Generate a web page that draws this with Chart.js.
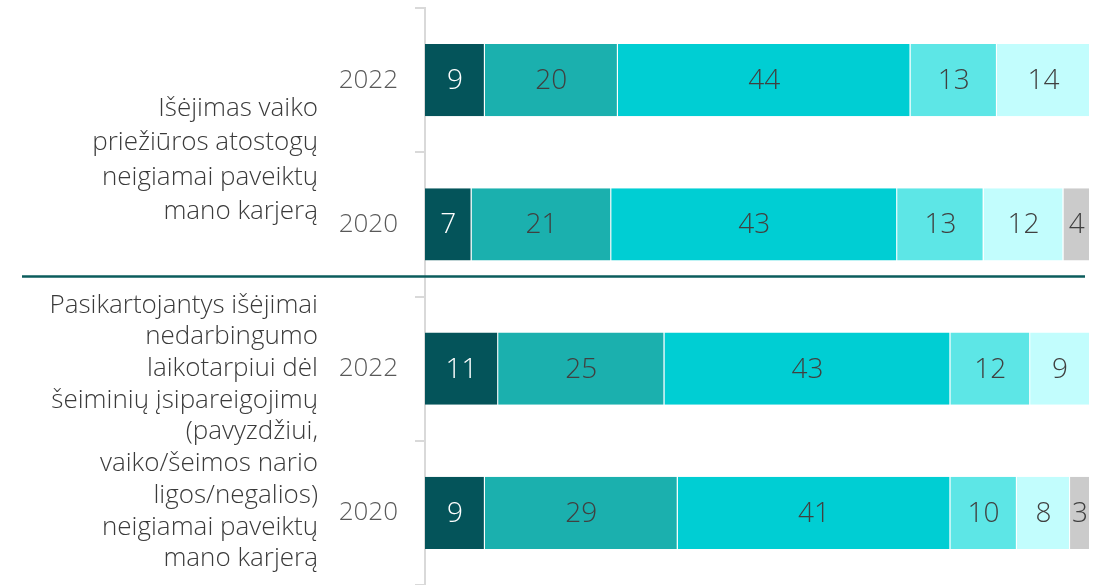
<!DOCTYPE html>
<html>
<head>
<meta charset="utf-8">
<script src="https://cdn.jsdelivr.net/npm/chart.js@4"></script>
<style>
  html, body { margin: 0; padding: 0; background: #fff; overflow: hidden; }
  #wrap { width: 1107px; height: 585px; position: relative; }
</style>
</head>
<body>
<div id="wrap"><canvas id="chart"></canvas></div>
<script>
const years = ['2022', '2020', '2022', '2020'];
const groupLabels = [
  ['Išėjimas vaiko', 'priežiūros atostogų', 'neigiamai paveiktų', 'mano karjerą'],
  ['Pasikartojantys išėjimai', 'nedarbingumo', 'laikotarpiui dėl', 'šeiminių įsipareigojimų',
   '(pavyzdžiui,', 'vaiko/šeimos nario', 'ligos/negalios)', 'neigiamai paveiktų', 'mano karjerą']
];
const seriesNames = ['Visiškai sutinku', 'Sutinku', 'Nei sutinku, nei nesutinku', 'Nesutinku', 'Visiškai nesutinku', 'Nežinau'];
const s1 = [9, 7, 11, 9];
const s2 = [20, 21, 25, 29];
const s3 = [44, 43, 43, 41];
const s4 = [13, 13, 12, 10];
const s5 = [14, 12, 9, 8];
const s6 = [0, 4, 0, 3];
const colors = ['#04545a', '#1bb0ae', '#00ced3', '#5de6e6', '#c2fdfd', '#cbcbcb'];

const FONT = '"Open Sans", "Segoe UI", sans-serif';

const valueLabels = {
  id: 'valueLabels',
  afterDatasetsDraw(chart) {
    const ctx = chart.ctx;
    ctx.save();
    ctx.font = '300 28px ' + FONT;
    ctx.textAlign = 'center';
    ctx.textBaseline = 'middle';
    chart.data.datasets.forEach((ds, i) => {
      chart.getDatasetMeta(i).data.forEach((bar, j) => {
        const v = ds.data[j];
        if (!v) return;
        const p = bar.getCenterPoint();
        ctx.fillStyle = i === 0 ? '#ffffff' : '#404040';
        ctx.fillText(v, p.x, p.y + 1);
      });
    });
    ctx.restore();
  }
};

const groupDecor = {
  id: 'groupDecor',
  afterDraw(chart) {
    const ctx = chart.ctx;
    const y = chart.scales.y;
    ctx.save();
    // divider between the two statements
    const divY = (y.getPixelForValue(1) + y.getPixelForValue(2)) / 2 - 20;
    ctx.strokeStyle = '#0b5c5c';
    ctx.lineWidth = 2.5;
    ctx.beginPath();
    ctx.moveTo(22, divY);
    ctx.lineTo(1085, divY);
    ctx.stroke();
    // statement labels
    ctx.font = '300 26px ' + FONT;
    ctx.fillStyle = '#3a3a3a';
    ctx.textAlign = 'right';
    ctx.textBaseline = 'middle';
    const specs = [
      { lines: groupLabels[0], center: 160, lh: 34.5 },
      { lines: groupLabels[1], center: 432, lh: 31.7 }
    ];
    specs.forEach(s => {
      const start = s.center - (s.lines.length - 1) * s.lh / 2;
      s.lines.forEach((t, k) => ctx.fillText(t, 318, start + k * s.lh));
    });
    ctx.restore();
  }
};

const datasets = [s1, s2, s3, s4, s5, s6].map((d, i) => ({
  label: seriesNames[i],
  data: d,
  backgroundColor: colors[i],
  borderColor: 'rgba(255,255,255,0.7)',
  borderWidth: { left: 0, right: 1, top: 0, bottom: 0 },
  borderSkipped: false,
  categoryPercentage: 1,
  barPercentage: 0.5
}));

new Chart(document.getElementById('chart'), {
  type: 'bar',
  data: { labels: years, datasets: datasets },
  options: {
    indexAxis: 'y',
    responsive: true,
    maintainAspectRatio: false,
    animation: false,
    layout: { padding: { top: 8, right: 17, left: 0, bottom: 0 } },
    plugins: {
      legend: { display: false },
      tooltip: { enabled: false }
    },
    scales: {
      x: {
        stacked: true,
        display: false,
        min: 0,
        max: 100
      },
      y: {
        stacked: true,
        afterFit(scale) {
          scale.width = 425;
          scale.paddingTop = 0;
          scale.paddingBottom = 0;
        },
        grid: {
          offset: true,
          drawOnChartArea: false,
          tickLength: 10,
          color: '#d9d9d9',
          lineWidth: 2
        },
        border: { color: '#d9d9d9', width: 2 },
        ticks: {
          padding: 17,
          color: '#595959',
          font: { family: FONT, size: 26, weight: '300' }
        }
      }
    }
  },
  plugins: [valueLabels, groupDecor]
});
</script>
</body>
</html>
